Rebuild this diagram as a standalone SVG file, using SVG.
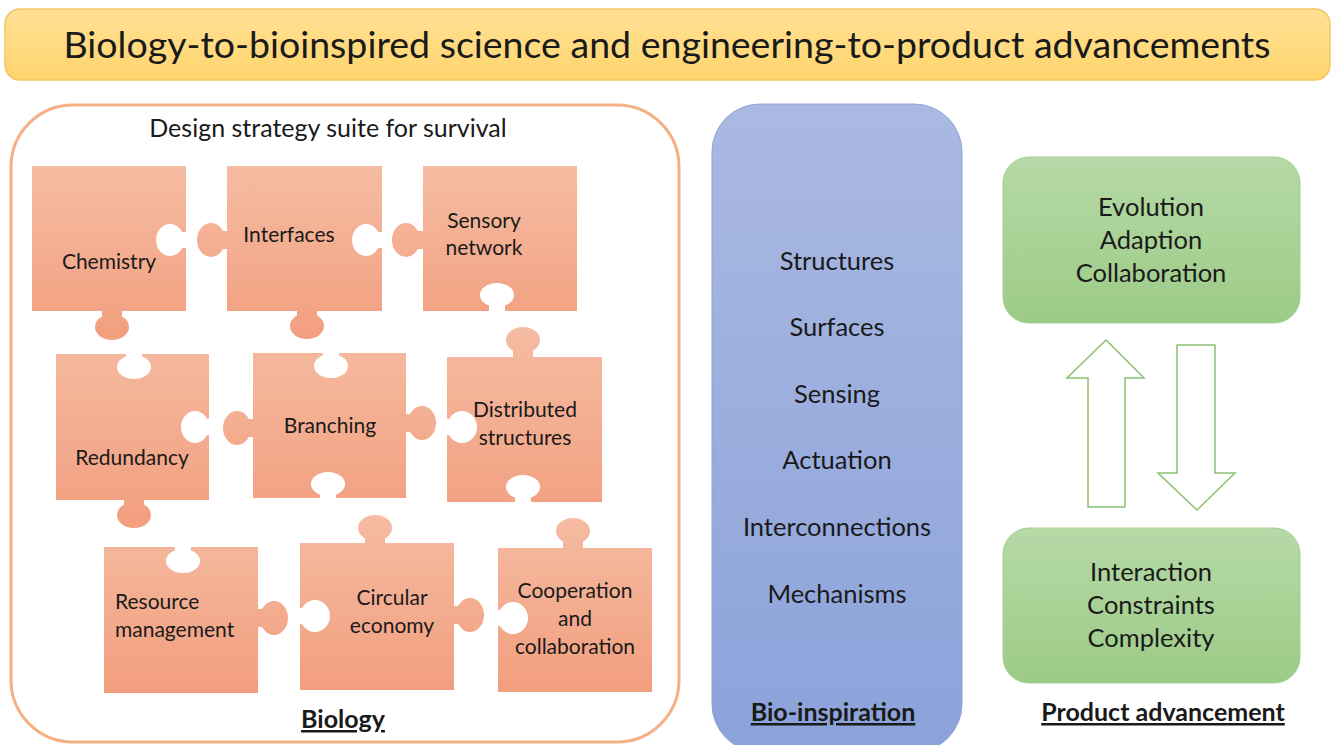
<svg xmlns="http://www.w3.org/2000/svg" width="1334" height="745" viewBox="0 0 1334 745">
<defs>
<linearGradient id="gTitle" x1="0" y1="0" x2="0" y2="1"><stop offset="0" stop-color="#FFE196"/><stop offset="1" stop-color="#FFD46C"/></linearGradient>
<linearGradient id="gBlue" x1="0" y1="0" x2="0" y2="1"><stop offset="0" stop-color="#AAB9E1"/><stop offset="1" stop-color="#8BA2DA"/></linearGradient>
<linearGradient id="gGreen" x1="0" y1="0" x2="0" y2="1"><stop offset="0" stop-color="#B6D9A7"/><stop offset="1" stop-color="#9CCB86"/></linearGradient>
<linearGradient id="g1" gradientUnits="userSpaceOnUse" x1="0" y1="166" x2="0" y2="340"><stop offset="0" stop-color="#F5BCA2"/><stop offset="1" stop-color="#F29E7E"/></linearGradient>
<linearGradient id="g2" gradientUnits="userSpaceOnUse" x1="0" y1="327" x2="0" y2="529"><stop offset="0" stop-color="#F5BCA2"/><stop offset="1" stop-color="#F29E7E"/></linearGradient>
<linearGradient id="g3" gradientUnits="userSpaceOnUse" x1="0" y1="514" x2="0" y2="693"><stop offset="0" stop-color="#F5BCA2"/><stop offset="1" stop-color="#F29E7E"/></linearGradient>
</defs>
<style>
text{font-family:Lato,"Open Sans","Liberation Sans",sans-serif;fill:#1A1A1A;text-anchor:middle}
.t{font-size:37.5px}
.sub{font-size:25px}
.pz{font-size:21px}
.item{font-size:25.5px}
.lbl{font-size:25px;font-weight:bold;text-decoration:underline}
.r1{fill:url(#g1)}
.r2{fill:url(#g2)}
.r3{fill:url(#g3)}
.hole{fill:#FFFFFF}
.arr{fill:#FFFFFF;stroke:#8CC072;stroke-width:1.5}
</style>

<g id="title">
<rect x="5" y="9" width="1325" height="71" rx="15" fill="url(#gTitle)" stroke="#F3C665" stroke-width="1.5"/>
<text class="t" x="667" y="58">Biology-to-bioinspired science and engineering-to-product advancements</text>
</g>

<g id="biology">
<rect x="11" y="105" width="668" height="637" rx="62" fill="#FFFFFF" stroke="#F4B183" stroke-width="3"/>
<text class="sub" x="328" y="137">Design strategy suite for survival</text>
<text class="lbl" x="343" y="728">Biology</text>
</g>

<g id="chemistry" class="r1">
<rect x="32" y="166" width="154" height="145"/>
<rect x="102" y="306" width="20" height="10"/><ellipse cx="112" cy="327" rx="17" ry="13"/>
<ellipse class="hole" cx="170" cy="240" rx="14" ry="16"/><rect class="hole" x="178" y="232" width="10" height="16"/>
<text class="pz" x="109" y="269">Chemistry</text>
</g>

<g id="interfaces" class="r1">
<rect x="227" y="166" width="155" height="145"/>
<rect x="220" y="231" width="10" height="18"/><ellipse cx="211" cy="240" rx="14" ry="17"/>
<rect x="297" y="306" width="20" height="10"/><ellipse cx="307" cy="326" rx="17" ry="13"/>
<ellipse class="hole" cx="366" cy="240" rx="14" ry="16"/><rect class="hole" x="374" y="232" width="10" height="16"/>
<text class="pz" x="289" y="242">Interfaces</text>
</g>

<g id="sensory" class="r1">
<rect x="423" y="166" width="154" height="145"/>
<rect x="416" y="231" width="10" height="18"/><ellipse cx="406" cy="240" rx="14" ry="17"/>
<ellipse class="hole" cx="497" cy="295" rx="17" ry="12"/><rect class="hole" x="489" y="302" width="16" height="10"/>
<text class="pz" x="484" y="228">Sensory</text>
<text class="pz" x="484" y="255">network</text>
</g>

<g id="redundancy" class="r2">
<rect x="56" y="354" width="153" height="146"/>
<rect x="124" y="496" width="20" height="10"/><ellipse cx="134" cy="515" rx="17" ry="13"/>
<ellipse class="hole" cx="134" cy="367" rx="17" ry="12"/><rect class="hole" x="126" y="352" width="16" height="8"/>
<ellipse class="hole" cx="195" cy="427" rx="14" ry="16"/><rect class="hole" x="203" y="419" width="8" height="16"/>
<text class="pz" x="132" y="465">Redundancy</text>
</g>

<g id="branching" class="r2">
<rect x="253" y="353" width="153" height="145"/>
<rect x="246" y="419" width="10" height="18"/><ellipse cx="237" cy="428" rx="14" ry="17"/>
<rect x="403" y="414" width="10" height="18"/><ellipse cx="422" cy="423" rx="14" ry="17"/>
<ellipse class="hole" cx="331" cy="366" rx="17" ry="12"/><rect class="hole" x="323" y="351" width="16" height="8"/>
<ellipse class="hole" cx="328" cy="484" rx="17" ry="12"/><rect class="hole" x="320" y="490" width="16" height="10"/>
<text class="pz" x="330" y="433">Branching</text>
</g>

<g id="distributed" class="r2">
<rect x="447" y="357" width="155" height="145"/>
<rect x="513" y="348" width="20" height="10"/><ellipse cx="523" cy="340" rx="17" ry="13"/>
<ellipse class="hole" cx="462" cy="427" rx="15" ry="16"/><rect class="hole" x="445" y="419" width="8" height="16"/>
<ellipse class="hole" cx="523" cy="487" rx="17" ry="12"/><rect class="hole" x="515" y="493" width="16" height="10"/>
<text class="pz" x="525" y="417">Distributed</text>
<text class="pz" x="525" y="445">structures</text>
</g>

<g id="resource" class="r3">
<rect x="104" y="547" width="154" height="146"/>
<rect x="255" y="609" width="10" height="18"/><ellipse cx="274" cy="618" rx="14" ry="17"/>
<ellipse class="hole" cx="183" cy="561" rx="17" ry="12"/><rect class="hole" x="175" y="545" width="16" height="8"/>
<text class="pz" x="115" y="609" style="text-anchor:start">Resource</text>
<text class="pz" x="115" y="637" style="text-anchor:start">management</text>
</g>

<g id="circular" class="r3">
<rect x="300" y="543" width="154" height="147"/>
<rect x="365" y="534" width="20" height="10"/><ellipse cx="375" cy="528" rx="17" ry="13"/>
<rect x="451" y="606" width="10" height="18"/><ellipse cx="470" cy="615" rx="14" ry="17"/>
<ellipse class="hole" cx="315" cy="616" rx="15" ry="16"/><rect class="hole" x="298" y="608" width="8" height="16"/>
<text class="pz" x="392" y="605">Circular</text>
<text class="pz" x="392" y="633">economy</text>
</g>

<g id="cooperation" class="r3">
<rect x="498" y="548" width="154" height="144"/>
<rect x="563" y="539" width="20" height="10"/><ellipse cx="573" cy="531" rx="17" ry="13"/>
<ellipse class="hole" cx="513" cy="618" rx="15" ry="16"/><rect class="hole" x="496" y="610" width="8" height="16"/>
<text class="pz" x="575" y="598">Cooperation</text>
<text class="pz" x="575" y="626">and</text>
<text class="pz" x="575" y="654">collaboration</text>
</g>

<g id="bioinspiration">
<rect x="712" y="104" width="250" height="648" rx="48" fill="url(#gBlue)" stroke="#8EA3D6" stroke-width="1"/>
<text class="item" x="837" y="270">Structures</text>
<text class="item" x="837" y="336">Surfaces</text>
<text class="item" x="837" y="403">Sensing</text>
<text class="item" x="837" y="469">Actuation</text>
<text class="item" x="837" y="536">Interconnections</text>
<text class="item" x="837" y="603">Mechanisms</text>
<text class="lbl" x="833" y="721">Bio-inspiration</text>
</g>

<g id="top-green">
<rect x="1003" y="157" width="297" height="166" rx="26" fill="url(#gGreen)" stroke="#A5CF91" stroke-width="1"/>
<text class="item" x="1151" y="216">Evolution</text>
<text class="item" x="1151" y="249">Adaption</text>
<text class="item" x="1151" y="282">Collaboration</text>
</g>

<g id="bottom-green">
<rect x="1003" y="528" width="297" height="155" rx="26" fill="url(#gGreen)" stroke="#A5CF91" stroke-width="1"/>
<text class="item" x="1151" y="581">Interaction</text>
<text class="item" x="1151" y="614">Constraints</text>
<text class="item" x="1151" y="647">Complexity</text>
</g>

<text class="lbl" x="1163" y="721">Product advancement</text>

<g id="connectors">
<path class="arr" d="M1106,340 L1144,378 L1125,378 L1125,507 L1088,507 L1088,378 L1067,378 Z"/>
<path class="arr" d="M1177,345 L1215,345 L1215,473 L1235,473 L1197,510 L1158,473 L1177,473 Z"/>
</g>
</svg>
